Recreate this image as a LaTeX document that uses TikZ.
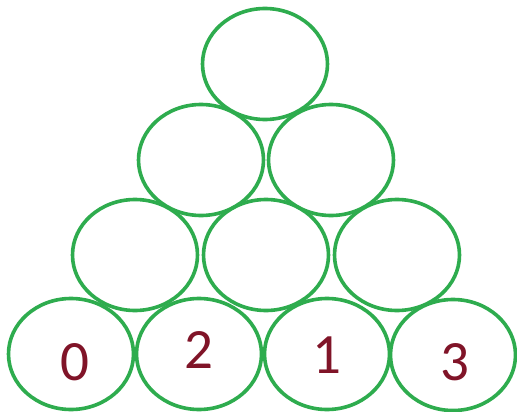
\documentclass[tikz,border=0pt]{standalone}
\usepackage{fontspec}
\setmainfont{Carlito}
\usetikzlibrary{shapes.geometric,calc}
\definecolor{ringgreen}{RGB}{46,172,78}
\definecolor{numred}{RGB}{128,20,40}
\tikzset{
  ring/.style={ellipse, draw=ringgreen, line width=3.6pt, minimum width=125pt, minimum height=111pt, inner sep=0pt},
  num/.style={text=numred, font=\fontsize{57}{57}\selectfont, inner sep=0pt}
}
\begin{document}
\begin{tikzpicture}[x=1pt,y=-1pt]
\useasboundingbox (0,0) rectangle (517,412);
\fill[white] (0,0) rectangle (517,412);
% row 1
\node[ring] (t) at (265,64) {};
% row 2
\node[ring] (m1) at (201,160) {};
\node[ring] (m2) at (331,160) {};
% row 3
\node[ring] (r1) at (135,255) {};
\node[ring] (r2) at (266,255) {};
\node[ring] (r3) at (397,255) {};
% row 4
\node[ring] (b1) at (71,354) {};
\node[ring] (b2) at (199,354) {};
\node[ring] (b3) at (327,354) {};
\node[ring] (b4) at (453,355) {};
% numbers
\node[num] (n0) at ($(b1.center)+(4,8)$) {0};
\node[num] (n2) at ($(b2.center)+(0,-4)$) {2};
\node[num] (n1) at ($(b3.center)+(0,1)$) {1};
\node[num] (n3) at ($(b4.center)+(2,7)$) {3};
\end{tikzpicture}
\end{document}
